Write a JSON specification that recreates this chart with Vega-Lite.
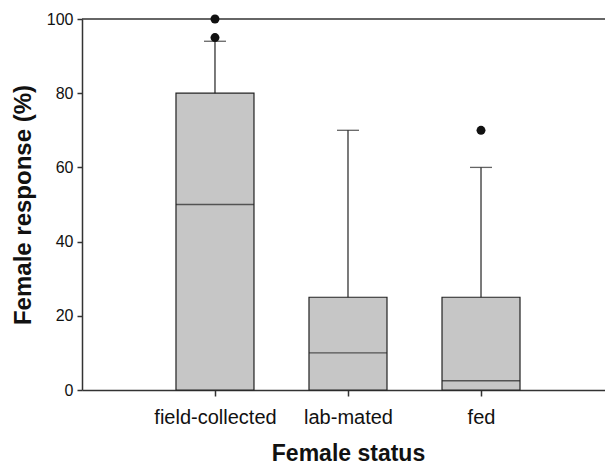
{
  "$schema": "https://vega.github.io/schema/vega-lite/v6.json",
  "autosize": {"type": "none"},
  "padding": {"left": 82, "top": 19, "right": 0, "bottom": 76},
  "width": 523,
  "height": 371,
  "background": "white",
  "config": {
    "view": {"stroke": null},
    "font": "Liberation Sans",
    "axis": {"grid": false, "domainColor": "#333", "tickColor": "#333", "labelColor": "#111", "titleColor": "#111", "domainWidth": 1.5, "tickWidth": 1.5}
  },
  "datasets": {
    "boxes": [
      {"status": "field-collected", "q1": 0, "median": 50, "q3": 80, "upper": 94},
      {"status": "lab-mated", "q1": 0, "median": 10, "q3": 25, "upper": 70},
      {"status": "fed", "q1": 0, "median": 2.5, "q3": 25, "upper": 60}
    ],
    "outliers": [
      {"status": "field-collected", "value": 100},
      {"status": "field-collected", "value": 95},
      {"status": "fed", "value": 70}
    ],
    "frame": [{"top": 100}]
  },
  "layer": [
    {
      "data": {"name": "boxes"},
      "mark": {"type": "bar", "size": 78, "fill": "#c6c6c6", "stroke": "#222", "strokeWidth": 1.2},
      "encoding": {
        "x": {"field": "status", "type": "nominal", "scale": {"type": "point", "domain": ["field-collected", "lab-mated", "fed"], "padding": 0.966, "align": 0.5175},
          "axis": {"title": "Female status", "labelAngle": 0, "labelFontSize": 20, "tickSize": 6, "labelPadding": 11, "titleFontSize": 23, "titleFontWeight": "bold", "titlePadding": 15, "titleX": 266}},
        "y": {"field": "q1", "type": "quantitative", "scale": {"domain": [0, 100], "nice": false},
          "axis": {"title": "Female response (%)", "values": [0, 20, 40, 60, 80, 100], "tickSize": 5, "labelFontSize": 16, "labelPadding": 4, "titleFontSize": 24, "titleFontWeight": "bold", "titlePadding": 11}},
        "y2": {"field": "q3"}
      }
    },
    {
      "data": {"name": "boxes"},
      "mark": {"type": "tick", "size": 78, "thickness": 1.3, "color": "#222"},
      "encoding": {
        "x": {"field": "status", "type": "nominal"},
        "y": {"field": "median", "type": "quantitative"}
      }
    },
    {
      "data": {"name": "boxes"},
      "mark": {"type": "rule", "color": "#222", "strokeWidth": 1.2},
      "encoding": {
        "x": {"field": "status", "type": "nominal"},
        "y": {"field": "q3", "type": "quantitative"},
        "y2": {"field": "upper"}
      }
    },
    {
      "data": {"name": "boxes"},
      "mark": {"type": "tick", "size": 22, "thickness": 1.3, "color": "#222"},
      "encoding": {
        "x": {"field": "status", "type": "nominal"},
        "y": {"field": "upper", "type": "quantitative"}
      }
    },
    {
      "data": {"name": "frame"},
      "mark": {"type": "rule", "color": "#333", "strokeWidth": 1.5},
      "encoding": {
        "y": {"field": "top", "type": "quantitative"}
      }
    },
    {
      "data": {"name": "outliers"},
      "mark": {"type": "circle", "size": 80, "color": "#111", "opacity": 1},
      "encoding": {
        "x": {"field": "status", "type": "nominal"},
        "y": {"field": "value", "type": "quantitative"}
      }
    }
  ]
}
